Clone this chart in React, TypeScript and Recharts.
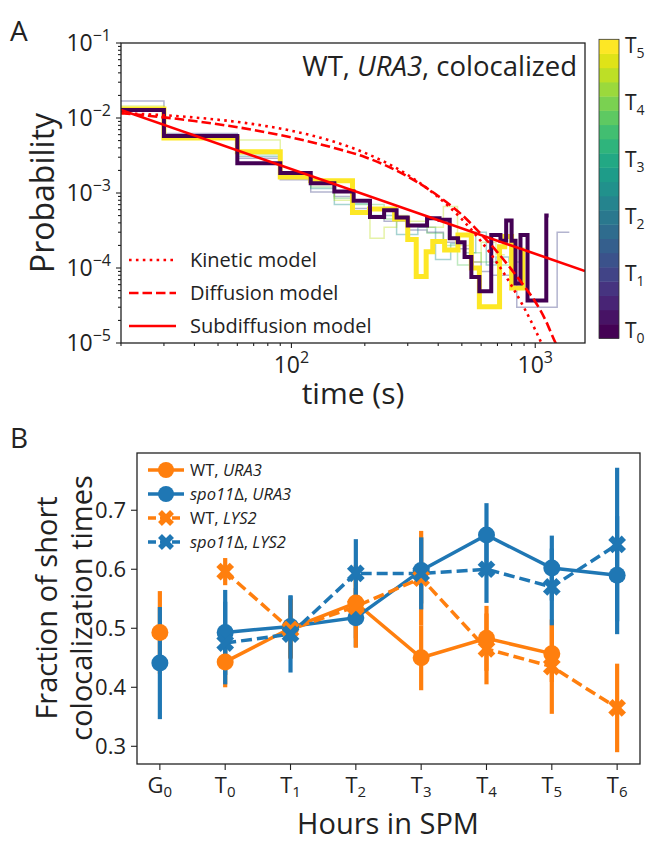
import React from 'react'
import { LineChart, ComposedChart, Line, XAxis, YAxis, ErrorBar } from 'recharts'

const FONT = '"Open Sans", "Noto Sans", "DejaVu Sans", sans-serif'
const INK = '#222222'
const RED = '#ff0000'
const ORANGE = '#ff7f0e'
const BLUE = '#1f77b4'

// ---------- Panel A: residence time histograms (bin start in s, probability) ----------
const T0_TIME = [20, 30, 60, 90, 120, 150, 180, 210, 240, 270, 300, 360, 405, 446, 482, 513, 547, 590, 660, 720, 760, 800, 830, 870, 930, 1110, 1135]
const T0_PROB = [0.0128, 0.00575, 0.00249, 0.00185, 0.00135, 0.00105, 0.00079, 0.00048, 0.00059, 0.00047, 0.00037, 0.00046, 0.00044, 0.00025, 0.00022, 0.00014, 0.000076, 0.000049, 0.000275, 0.00023, 0.00043, 0.00023, 0.000062, 0.000275, 0.000037, 0.0005, 0.0005]

const T5_TIME = [20, 30, 60, 90, 120, 178, 209, 265, 300, 325, 357, 380, 425, 482, 547, 590, 714, 750, 800, 890, 905]
const T5_PROB = [0.0132, 0.0054, 0.00356, 0.00163, 0.00146, 0.00055, 0.00061, 0.00045, 0.00024, 0.000077, 0.000165, 0.000225, 0.000174, 0.000275, 0.0001, 0.0000305, 0.000192, 0.000263, 0.000054, 0.000174, 0.000174]

const T1_TIME = [20, 30, 60, 90, 120, 150, 180, 240, 300, 360, 420, 480, 540, 600, 660, 840, 1230, 1380]
const T1_PROB = [0.0169, 0.0062, 0.0029, 0.0015, 0.00103, 0.0009, 0.00062, 0.00042, 0.00032, 0.0003, 0.00022, 0.00018, 0.00012, 0.00009, 0.00008, 0.00003, 0.0003, 0.0003]

const T2_TIME = [20, 30, 60, 90, 120, 150, 180, 210, 270, 330, 390, 450, 510, 570, 630, 690, 780, 870]
const T2_PROB = [0.0135, 0.0057, 0.0031, 0.0017, 0.00115, 0.0007, 0.00072, 0.0005, 0.00028, 0.00035, 0.00013, 0.00021, 0.00016, 0.0003, 0.00011, 0.00014, 0.00012, 0.00012]

const T3_TIME = [20, 30, 60, 90, 120, 150, 180, 240, 300, 360, 420, 480, 540, 600, 700, 780]
const T3_PROB = [0.013, 0.0056, 0.0033, 0.0019, 0.0012, 0.00085, 0.0007, 0.00045, 0.00038, 0.00029, 0.0002, 0.00011, 0.00016, 0.00012, 0.00011, 0.00011]

const T4_TIME = [20, 30, 60, 90, 120, 150, 210, 240, 270, 300, 360, 420, 480, 540, 600, 690, 750]
const T4_PROB = [0.0145, 0.0058, 0.0051, 0.0016, 0.0013, 0.0008, 0.00025, 0.00035, 0.0005, 0.00042, 0.00035, 0.00066, 0.0002, 0.00012, 0.00022, 0.00015, 0.00015]

// model curves
const MODEL_TIME = [20, 40, 70, 100, 150, 200, 300, 400, 500, 600, 700, 800, 900, 1000, 1100, 1200, 1300]
const KINETIC_PROB = [0.01164, 0.01016, 0.00828, 0.00676, 0.00481, 0.00343, 0.00174, 0.00088, 0.000447, 0.000226, 0.000115, 0.000058, 0.0000295, 0.000015, 0.0000076, 0.0000038, 0.0000019]
const DIFFUSION_PROB = [0.01161, 0.00912, 0.00692, 0.0055, 0.00398, 0.00302, 0.00166, 0.000912, 0.000513, 0.000282, 0.000162, 0.000095, 0.0000575, 0.0000355, 0.0000204, 0.0000107, 0.0000063]
const SUBDIFF_TIME = [20, 1600]
const SUBDIFF_PROB = [0.0128, 0.000091]

const X_TICKS_A = [20, 30, 40, 50, 60, 70, 80, 90, 100, 200, 300, 400, 500, 600, 700, 800, 900, 1000]
const Y_TICKS_A = [1e-5, 1e-4, 1e-3, 1e-2].flatMap(d => [1, 2, 3, 4, 5, 6, 7, 8, 9].map(m => m * d)).concat([1e-1])

const COLORBAR = ['#440154', '#471365', '#482475', '#463480', '#414487', '#3b528b', '#355f8d', '#2f6c8e', '#2a788e', '#25848e', '#21918c', '#1e9c89', '#22a884', '#2fb47c', '#42be71', '#5ec962', '#7ad151', '#9bd93c', '#bddf26', '#dfe318', '#fde725']
const COLORBAR_LABELS = ['0', '1', '2', '3', '4', '5']

// ---------- Panel B: fraction of short colocalization times ----------
const STAGE_LETTER = ['G', 'T', 'T', 'T', 'T', 'T', 'T', 'T']
const STAGE_INDEX = ['0', '0', '1', '2', '3', '4', '5', '6']
const WT_URA3 = [0.493, 0.443, 0.5, 0.543, 0.45, 0.483, 0.457, null]
const WT_URA3_ERR = [0.07, 0.043, 0.05, 0.06, 0.055, 0.055, 0.048, null]
const SPO11_URA3 = [0.441, 0.493, 0.503, 0.518, 0.598, 0.658, 0.602, 0.59]
const SPO11_URA3_ERR = [0.095, 0.072, 0.053, 0.05, 0.056, 0.054, 0.055, 0.1]
const WT_LYS2 = [null, 0.596, 0.498, 0.537, 0.585, 0.465, 0.435, 0.365]
const WT_LYS2_ERR = [null, 0.023, 0.05, 0.07, 0.08, 0.06, 0.08, 0.075]
const SPO11_LYS2 = [null, 0.475, 0.49, 0.593, 0.593, 0.6, 0.57, 0.642]
const SPO11_LYS2_ERR = [null, 0.07, 0.065, 0.058, 0.061, 0.057, 0.065, 0.13]
const Y_TICKS_B = [0.3, 0.4, 0.5, 0.6, 0.7]

const steps = (ts: number[], ps: number[]) => ts.map((t, i) => ({ t, p: ps[i] }))

const THIN = [
  { t: T1_TIME, p: T1_PROB, color: COLORBAR[4] },
  { t: T2_TIME, p: T2_PROB, color: COLORBAR[10] },
  { t: T3_TIME, p: T3_PROB, color: COLORBAR[15] },
  { t: T4_TIME, p: T4_PROB, color: COLORBAR[18] },
]

const tableB = STAGE_LETTER.map((_, i) => ({
  x: i,
  wtUbar: WT_URA3[i],
  wtUe: WT_URA3_ERR[i],
  wtU: i > 0 ? WT_URA3[i] : null,
  wtG: i === 0 ? WT_URA3[0] : null,
  spUbar: SPO11_URA3[i],
  spUe: SPO11_URA3_ERR[i],
  spU: i > 0 ? SPO11_URA3[i] : null,
  spG: i === 0 ? SPO11_URA3[0] : null,
  wtL: WT_LYS2[i],
  wtLe: WT_LYS2_ERR[i],
  spL: SPO11_LYS2[i],
  spLe: SPO11_LYS2_ERR[i],
}))

const isMajor = (v: number) => Math.abs(Math.log10(v) - Math.round(Math.log10(v))) < 1e-6

const LogXTick = (props: any) => {
  const { x, y, payload } = props
  const v = payload.value
  const major = isMajor(v)
  return (
    <g>
      <line x1={x} x2={x} y1={y} y2={y + (major ? 5 : 3)} stroke={INK} strokeWidth={1.1} />
      {major && (
        <text x={x} y={y + 30} textAnchor="middle" fontSize={23} fill={INK} fontFamily={FONT}>
          10<tspan dy={-10} fontSize={16}>{Math.round(Math.log10(v))}</tspan>
        </text>
      )}
    </g>
  )
}

const LogYTick = (props: any) => {
  const { x, y, payload } = props
  const v = payload.value
  const major = isMajor(v)
  return (
    <g>
      <line x1={x} x2={x - (major ? 5 : 3)} y1={y} y2={y} stroke={INK} strokeWidth={1.1} />
      {major && (
        <text x={x - 10} y={y + 8} textAnchor="end" fontSize={23} fill={INK} fontFamily={FONT}>
          10<tspan dy={-10} fontSize={16}>{'\u2212' + -Math.round(Math.log10(v))}</tspan>
        </text>
      )}
    </g>
  )
}

const StageTick = (props: any) => {
  const { x, y, payload } = props
  const i = payload.value
  return (
    <g>
      <line x1={x} x2={x} y1={y} y2={y + 6} stroke={INK} strokeWidth={1.1} />
      <text x={x} y={y + 29} textAnchor="middle" fontSize={22} fill={INK} fontFamily={FONT}>
        {STAGE_LETTER[i]}<tspan dy={4} fontSize={15}>{STAGE_INDEX[i]}</tspan>
      </text>
    </g>
  )
}

const FracTick = (props: any) => {
  const { x, y, payload } = props
  return (
    <g>
      <line x1={x} x2={x - 6} y1={y} y2={y} stroke={INK} strokeWidth={1.1} />
      <text x={x - 11} y={y + 8} textAnchor="end" fontSize={22} fill={INK} fontFamily={FONT}>
        {payload.value.toFixed(1)}
      </text>
    </g>
  )
}

function XMark({ cx, cy, color, size = 9.5 }: { cx: number; cy: number; color: string; size?: number }) {
  const a = size * 0.32
  return (
    <g transform={`translate(${cx},${cy}) rotate(45)`}>
      <rect x={-size} y={-a} width={2 * size} height={2 * a} fill={color} />
      <rect x={-a} y={-size} width={2 * a} height={2 * size} fill={color} />
    </g>
  )
}

const circleDot = (color: string) => (p: any) =>
  p.cy == null || p.value == null ? <g key={`c${p.index}`} /> : <circle key={`c${p.index}`} cx={p.cx} cy={p.cy} r={8.5} fill={color} />

const crossDot = (color: string) => (p: any) =>
  p.cy == null || p.value == null ? <g key={`x${p.index}`} /> : <XMark key={`x${p.index}`} cx={p.cx} cy={p.cy} color={color} />

function Text({ x, y, size, children, rotate, anchor = 'center', style }: any) {
  const tx = anchor === 'center' ? '-50%' : anchor === 'end' ? '-100%' : '0'
  return (
    <div
      style={{
        position: 'absolute',
        left: x,
        top: y,
        transform: `translate(${tx},-50%)${rotate ? ` rotate(${rotate}deg)` : ''}`,
        fontSize: size,
        lineHeight: 1,
        whiteSpace: 'nowrap',
        color: INK,
        ...style,
      }}
    >
      {children}
    </div>
  )
}

const LEGEND_A = [
  { label: 'Kinetic model', dash: '2.6 4.3' },
  { label: 'Diffusion model', dash: '9.5 4' },
  { label: 'Subdiffusion model', dash: undefined },
]

const LEGEND_B = [
  { label: <><span>WT, </span><i>URA3</i></>, color: ORANGE, cross: false },
  { label: <><i>spo11</i><span>Δ, </span><i>URA3</i></>, color: BLUE, cross: false },
  { label: <><span>WT, </span><i>LYS2</i></>, color: ORANGE, cross: true },
  { label: <><i>spo11</i><span>Δ, </span><i>LYS2</i></>, color: BLUE, cross: true },
]

export default function App() {
  return (
    <div style={{ position: 'absolute', left: 0, top: 0, width: 660, height: 841, background: '#fff', fontFamily: FONT, overflow: 'hidden' }}>
      {/* Panel A */}
      <div style={{ position: 'absolute', left: 0, top: 0 }}>
        <LineChart width={660} height={400} margin={{ top: 43, right: 75, bottom: 0, left: 0 }}>
          <XAxis
            type="number"
            dataKey="t"
            scale="log"
            domain={[20, 1600]}
            allowDataOverflow
            ticks={X_TICKS_A}
            interval={0}
            tick={<LogXTick />}
            tickLine={false}
            axisLine={false}
            tickSize={0}
            tickMargin={0}
            height={57}
          />
          <YAxis
            type="number"
            dataKey="p"
            scale="log"
            domain={[1e-5, 1e-1]}
            allowDataOverflow
            ticks={Y_TICKS_A}
            interval={0}
            tick={<LogYTick />}
            tickLine={false}
            axisLine={false}
            tickSize={0}
            tickMargin={0}
            width={121}
          />
          {THIN.map((s, i) => (
            <Line
              key={`thin${i}`}
              data={steps(s.t, s.p)}
              dataKey="p"
              type="stepAfter"
              stroke={s.color}
              strokeOpacity={0.4}
              strokeWidth={1.5}
              dot={false}
              isAnimationActive={false}
            />
          ))}
          <Line data={steps(T5_TIME, T5_PROB)} dataKey="p" type="stepAfter" stroke="#fde725" strokeWidth={5} dot={false} isAnimationActive={false} />
          <Line data={steps(T0_TIME, T0_PROB)} dataKey="p" type="stepAfter" stroke="#440154" strokeWidth={4} dot={false} isAnimationActive={false} />
          <Line data={MODEL_TIME.map((t, i) => ({ t, p: KINETIC_PROB[i] }))} dataKey="p" type="monotone" stroke={RED} strokeWidth={2.6} strokeDasharray="2.6 4.3" dot={false} isAnimationActive={false} />
          <Line data={MODEL_TIME.map((t, i) => ({ t, p: DIFFUSION_PROB[i] }))} dataKey="p" type="monotone" stroke={RED} strokeWidth={2.6} strokeDasharray="9.5 4" dot={false} isAnimationActive={false} />
          <Line data={SUBDIFF_TIME.map((t, i) => ({ t, p: SUBDIFF_PROB[i] }))} dataKey="p" type="linear" stroke={RED} strokeWidth={2.6} dot={false} isAnimationActive={false} />
        </LineChart>
      </div>

      {/* Panel B */}
      <div style={{ position: 'absolute', left: 0, top: 400 }}>
        <ComposedChart width={660} height={441} data={tableB} margin={{ top: 53, right: 20, bottom: 0, left: 0 }}>
          <XAxis
            type="number"
            dataKey="x"
            domain={[-0.35, 7.35]}
            ticks={[0, 1, 2, 3, 4, 5, 6, 7]}
            interval={0}
            tick={<StageTick />}
            tickLine={false}
            axisLine={false}
            tickSize={0}
            tickMargin={0}
            height={77}
          />
          <YAxis
            type="number"
            domain={[0.27, 0.797]}
            allowDataOverflow
            ticks={Y_TICKS_B}
            interval={0}
            tick={<FracTick />}
            tickLine={false}
            axisLine={false}
            tickSize={0}
            tickMargin={0}
            width={137}
          />
          {/* error bars first, beneath all markers */}
          <Line dataKey="wtUbar" stroke="none" dot={false} isAnimationActive={false}>
            <ErrorBar dataKey="wtUe" direction="y" width={0} strokeWidth={4.2} stroke={ORANGE} />
          </Line>
          <Line dataKey="spUbar" stroke="none" dot={false} isAnimationActive={false}>
            <ErrorBar dataKey="spUe" direction="y" width={0} strokeWidth={4.2} stroke={BLUE} />
          </Line>
          <Line dataKey="wtL" stroke="none" dot={false} isAnimationActive={false}>
            <ErrorBar dataKey="wtLe" direction="y" width={0} strokeWidth={4.2} stroke={ORANGE} />
          </Line>
          <Line dataKey="spL" stroke="none" dot={false} isAnimationActive={false}>
            <ErrorBar dataKey="spLe" direction="y" width={0} strokeWidth={4.2} stroke={BLUE} />
          </Line>
          {/* series */}
          <Line dataKey="wtG" stroke="none" dot={circleDot(ORANGE)} isAnimationActive={false} />
          <Line dataKey="wtU" stroke={ORANGE} strokeWidth={3.5} dot={circleDot(ORANGE)} isAnimationActive={false} />
          <Line dataKey="spG" stroke="none" dot={circleDot(BLUE)} isAnimationActive={false} />
          <Line dataKey="spU" stroke={BLUE} strokeWidth={3.5} dot={circleDot(BLUE)} isAnimationActive={false} />
          <Line dataKey="wtL" stroke={ORANGE} strokeWidth={3.5} strokeDasharray="11 5" dot={crossDot(ORANGE)} isAnimationActive={false} />
          <Line dataKey="spL" stroke={BLUE} strokeWidth={3.5} strokeDasharray="11 5" dot={crossDot(BLUE)} isAnimationActive={false} />
        </ComposedChart>
      </div>

      {/* frames, colorbar, legend samples */}
      <svg width={660} height={841} style={{ position: 'absolute', left: 0, top: 0, pointerEvents: 'none' }}>
        <rect x={121} y={43} width={464} height={300} fill="none" stroke={INK} strokeWidth={1.3} />
        <rect x={137} y={453} width={503} height={311} fill="none" stroke={INK} strokeWidth={1.3} />
        {COLORBAR.map((c, i) => (
          <rect key={c} x={599} y={338.3 - (i + 1) * (299 / 21)} width={20} height={299 / 21 + 0.4} fill={c} />
        ))}
        <rect x={599} y={39.3} width={20} height={299} fill="none" stroke="#333" strokeWidth={0.8} />
        {COLORBAR_LABELS.map((s, k) => {
          const cy = 338.3 - (k * 4 + 0.5) * (299 / 21)
          return (
            <text key={s} x={625} y={cy + 7} fontSize={21} fill={INK} fontFamily={FONT}>
              T<tspan dy={5} fontSize={14}>{s}</tspan>
            </text>
          )
        })}
        {LEGEND_A.map((e, i) => (
          <line key={e.label} x1={129} x2={176} y1={260 + i * 33} y2={260 + i * 33} stroke={RED} strokeWidth={2.6} strokeDasharray={e.dash} />
        ))}
        {LEGEND_B.map((e, i) => (
          <g key={i}>
            <line x1={148} x2={184} y1={470 + i * 24} y2={470 + i * 24} stroke={e.color} strokeWidth={3.5} strokeDasharray={e.cross ? '8 4' : undefined} />
            {e.cross ? <XMark cx={166} cy={470 + i * 24} color={e.color} size={8.5} /> : <circle cx={166} cy={470 + i * 24} r={8} fill={e.color} />}
          </g>
        ))}
      </svg>

      {/* texts */}
      <Text x={10} y={30} size={28} anchor="start">A</Text>
      <Text x={10} y={437} size={28} anchor="start">B</Text>
      <Text x={577} y={66} size={27.5} anchor="end">
        WT, <i>URA3</i>, colocalized
      </Text>
      <Text x={42} y={193} size={32} rotate={-90}>Probability</Text>
      <Text x={353} y={393} size={30}>time (s)</Text>
      {LEGEND_A.map((e, i) => (
        <Text key={e.label} x={190} y={260 + i * 33} size={20} anchor="start">{e.label}</Text>
      ))}
      {LEGEND_B.map((e, i) => (
        <Text key={i} x={190} y={470 + i * 24} size={16.5} anchor="start">{e.label}</Text>
      ))}
      <Text x={45} y={608} size={29} rotate={-90}>Fraction of short</Text>
      <Text x={80} y={608} size={29} rotate={-90}>colocalization times</Text>
      <Text x={388} y={822} size={29}>Hours in SPM</Text>
    </div>
  )
}
